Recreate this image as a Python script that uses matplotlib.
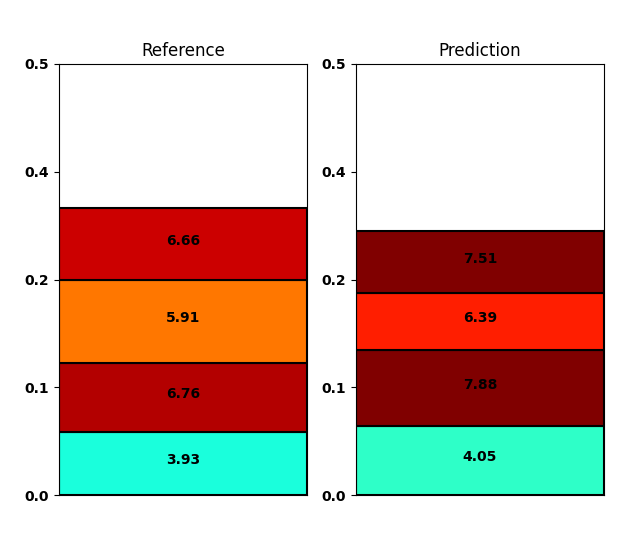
import matplotlib
matplotlib.use('Agg')
import matplotlib.pyplot as plt

# stacked segment heights (bottom to top) and labels
ref_heights = [0.0585, 0.064, 0.077, 0.0669]
ref_labels = ['3.93', '6.76', '5.91', '6.66']
ref_colors = ['#1affdc', '#b30000', '#ff7700', '#cc0000']

pred_heights = [0.064, 0.0706, 0.0529, 0.0575]
pred_labels = ['4.05', '7.88', '6.39', '7.51']
pred_colors = ['#2effc8', '#800000', '#ff1e00', '#800000']

ytick_pos = [0.0, 0.1, 0.2, 0.3, 0.4]
ytick_labels = ['0.0', '0.1', '0.2', '0.4', '0.5']


def draw_stack(ax, heights, labels, colors, title):
    bottom = 0.0
    for h, lab, c in zip(heights, labels, colors):
        ax.bar([0], [h], width=1.0, bottom=bottom, color=c,
               edgecolor='black', linewidth=1.5)
        ax.annotate(lab, (0, bottom + h / 2), xytext=(0, 2.5),
                    textcoords='offset points', ha='center', va='center',
                    fontsize=10, fontweight='bold')
        bottom += h
    ax.set_xlim(-0.5, 0.5)
    ax.set_ylim(0, 0.4)
    ax.set_xticks([])
    ax.set_yticks(ytick_pos)
    ax.set_yticklabels(ytick_labels, fontweight='bold', fontsize=10)
    ax.set_title(title, fontsize=12)


fig = plt.figure(figsize=(6.29, 5.57), dpi=100)
ax1 = fig.add_axes([0.0938, 0.1113, 0.3943, 0.7738])
ax2 = fig.add_axes([0.566, 0.1113, 0.3943, 0.7738])

draw_stack(ax1, ref_heights, ref_labels, ref_colors, 'Reference')
draw_stack(ax2, pred_heights, pred_labels, pred_colors, 'Prediction')

fig.savefig('out.png', dpi=100)
